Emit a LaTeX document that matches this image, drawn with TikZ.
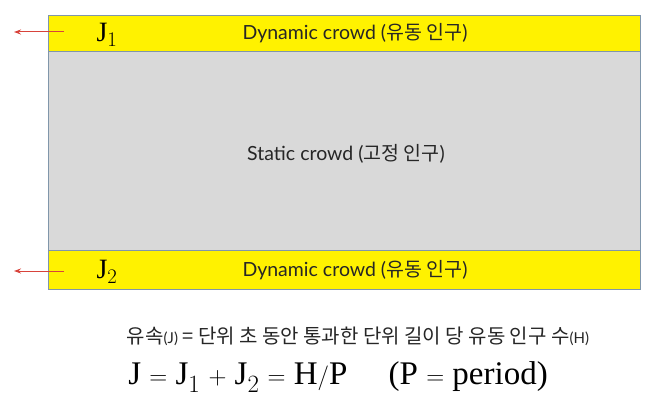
\documentclass[tikz,border=0pt]{standalone}
\usetikzlibrary{arrows.meta}
\usepackage{fontspec}
\setmainfont{Liberation Serif}
\newfontfamily\lbl{Lato}
\newfontfamily\kr{Noto Sans CJK KR}
\definecolor{bandy}{HTML}{FFF200}
\definecolor{midg}{HTML}{D9D9D9}
\definecolor{edgeb}{HTML}{8096AA}
\definecolor{arr}{HTML}{D8433B}
\begin{document}
\begin{tikzpicture}[x=1pt,y=-1pt,
  band/.style={draw=edgeb, fill=bandy, line width=0.8pt},
  mid/.style={draw=edgeb, fill=midg, line width=0.8pt},
  flow/.style={draw=arr, line width=1pt, -{Stealth[length=7pt,width=5pt]}},
  lab/.style={font=\lbl\fontsize{19.5}{22}\selectfont, text=black!85},
  jlab/.style={font=\fontsize{28}{30}\selectfont}]
\useasboundingbox (0,0) rectangle (670,409);
\fill[white] (0,0) rectangle (670,409);
\draw[mid] (48,51) rectangle (640,250);
\draw[band] (48,15) rectangle (640,51);
\draw[band] (48,250) rectangle (640,289);
\node[lab] (top) at (355,33) {Dynamic crowd ({\kr 유동 인구})};
\node[lab] (mid) at (346,154) {Static crowd ({\kr 고정 인구})};
\node[lab] (bot) at (355,270) {Dynamic crowd ({\kr 유동 인구})};
\node[jlab] (j1) at (107,35) {J$_1$};
\node[jlab] (j2) at (107,272) {J$_2$};
\coordinate (a1s) at (64,32);
\coordinate (a1e) at (14,32);
\coordinate (a2s) at (64,271);
\coordinate (a2e) at (14,271);
\draw[flow] (a1s) -- (a1e);
\draw[flow] (a2s) -- (a2e);
\node[font=\kr\fontsize{20}{22}\selectfont, text=black!85] (def) at (358,336)
  {유속{\lbl\fontsize{15}{17}\selectfont(J)} = 단위 초 동안 통과한 단위 길이 당 유동 인구 수{\lbl\fontsize{15}{17}\selectfont(H)}};
\node[font=\fontsize{33}{35}\selectfont] (eq) at (338,377)
  {J $=$ J$_1$ $+$ J$_2$ $=$ H$/$P \quad (P $=$ period)};
\end{tikzpicture}
\end{document}
